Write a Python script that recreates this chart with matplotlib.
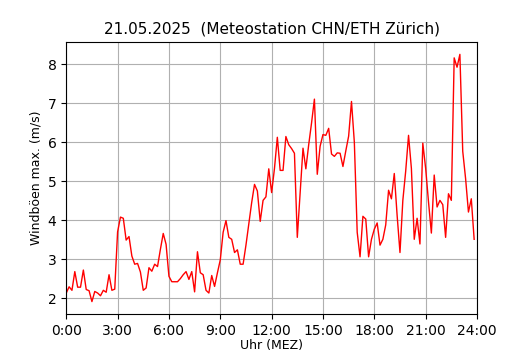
import numpy as np
import matplotlib
matplotlib.use("Agg")
import matplotlib.pyplot as plt

# Windböen (m/s), 10-Minuten-Werte ab 0:00
boeen = [
    2.13, 2.29, 2.20, 2.68, 2.28, 2.28,
    2.72, 2.22, 2.19, 1.91, 2.17, 2.13,
    2.06, 2.20, 2.15, 2.60, 2.20, 2.23,
    3.70, 4.08, 4.05, 3.49, 3.58, 3.08,
    2.87, 2.89, 2.67, 2.20, 2.26, 2.78,
    2.69, 2.87, 2.81, 3.25, 3.66, 3.38,
    2.56, 2.42, 2.42, 2.42, 2.50, 2.60,
    2.68, 2.48, 2.68, 2.16, 3.19, 2.65,
    2.60, 2.20, 2.13, 2.58, 2.30, 2.65,
    2.98, 3.69, 3.99, 3.56, 3.51, 3.17,
    3.24, 2.87, 2.87, 3.36, 3.90, 4.45,
    4.92, 4.75, 3.97, 4.51, 4.60, 5.32,
    4.71, 5.33, 6.13, 5.28, 5.28, 6.15,
    5.94, 5.84, 5.72, 3.56, 4.70, 5.85,
    5.32, 5.94, 6.50, 7.11, 5.18, 5.90,
    6.20, 6.18, 6.36, 5.70, 5.64, 5.73,
    5.72, 5.38, 5.78, 6.16, 7.05, 6.00,
    3.69, 3.06, 4.10, 4.03, 3.06, 3.51,
    3.77, 3.93, 3.36, 3.51, 3.88, 4.77,
    4.55, 5.20, 4.12, 3.17, 4.51, 5.26,
    6.18, 5.33, 3.51, 4.05, 3.39, 5.98,
    5.33, 4.47, 3.67, 5.16, 4.34, 4.51,
    4.40, 3.56, 4.68, 4.51, 8.17, 7.93,
    8.26, 5.77, 5.07, 4.21, 4.55, 3.51,
]
stunden = np.arange(len(boeen)) * 10 / 60.0

tick_pos = [0, 3, 6, 9, 12, 15, 18, 21, 24]
tick_labels = ["0:00", "3:00", "6:00", "9:00", "12:00", "15:00", "18:00", "21:00", "24:00"]

fig, ax = plt.subplots(figsize=(5.3, 3.5), dpi=100)
fig.subplots_adjust(left=0.125, right=0.9, top=0.88, bottom=0.103)

ax.plot(stunden, boeen, color="red", linewidth=1)
ax.set_xlim(0, 24)
ax.set_xticks(tick_pos)
ax.set_xticklabels(tick_labels)
ax.grid(True, color="#b0b0b0")
ax.set_axisbelow(True)

ax.set_title("21.05.2025  (Meteostation CHN/ETH Zürich)", fontsize=11)
ax.set_xlabel("Uhr (MEZ)", fontsize=9, labelpad=1)
ax.set_ylabel("Windböen max. (m/s)", fontsize=9)

fig.savefig("out.png", dpi=100)
